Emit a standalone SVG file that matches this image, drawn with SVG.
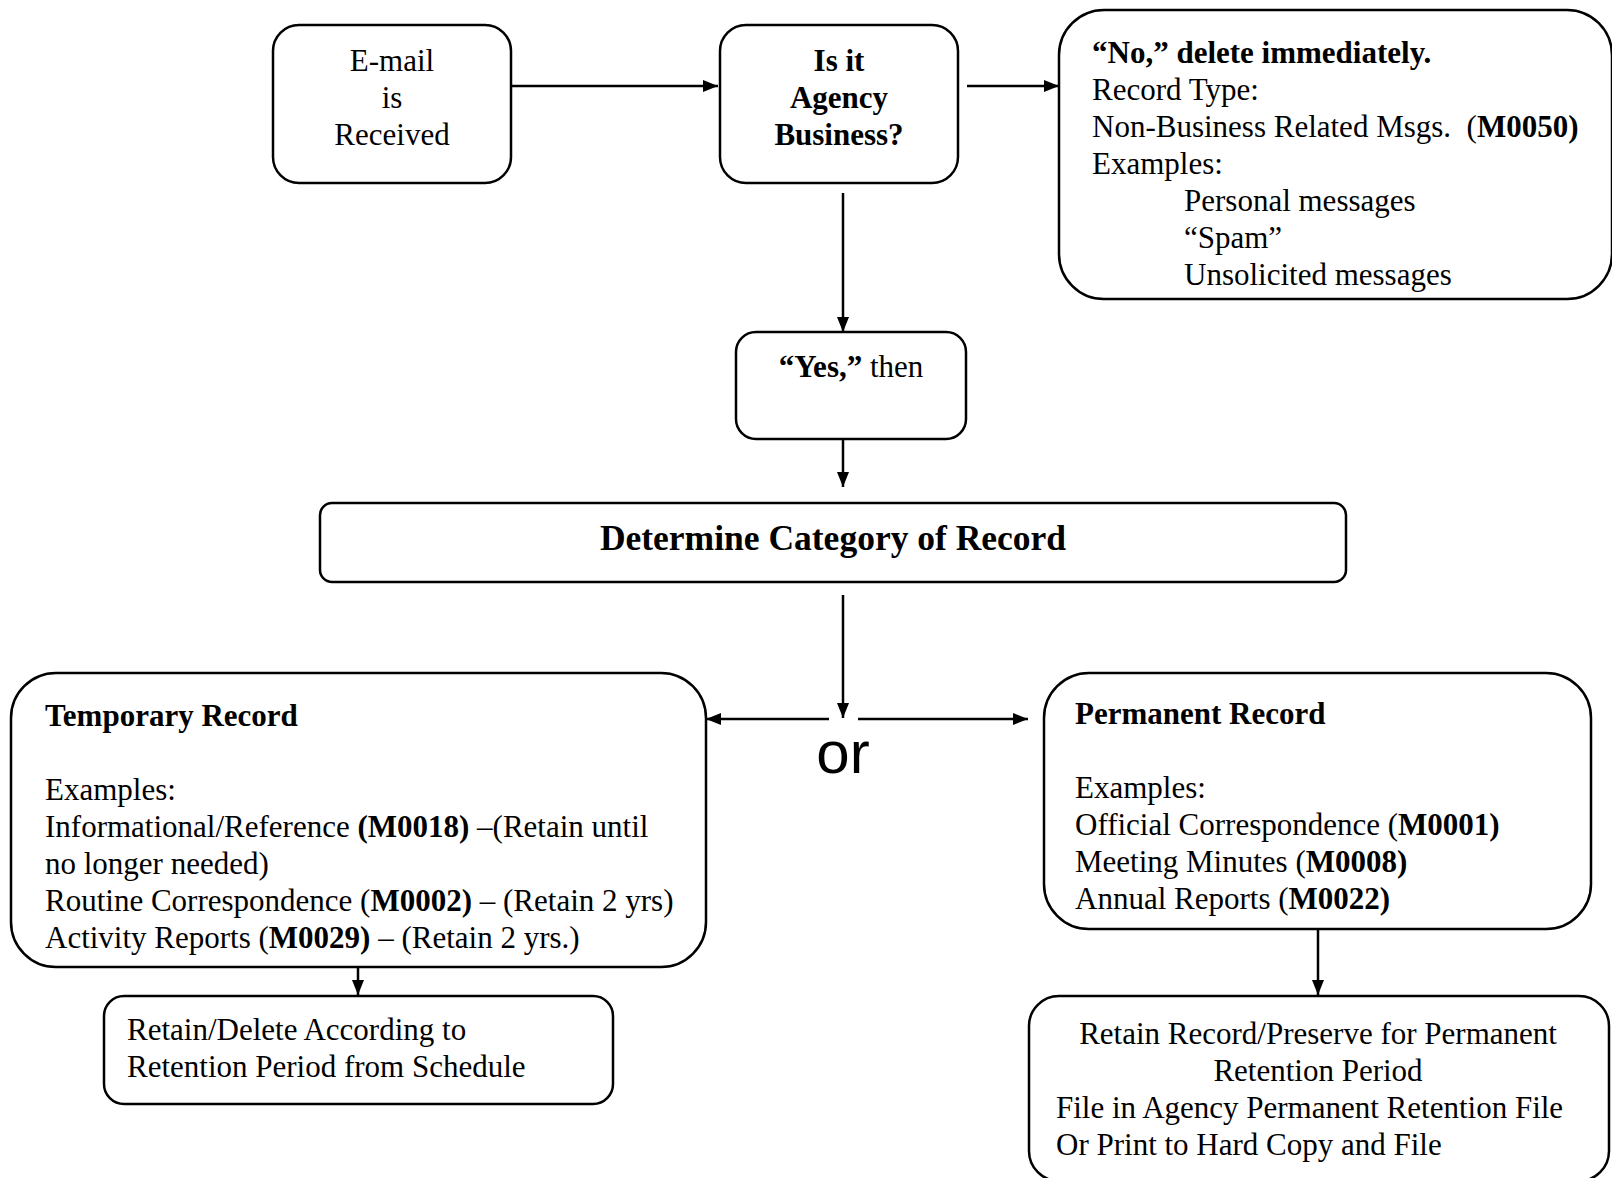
<svg xmlns="http://www.w3.org/2000/svg" width="1612" height="1178" viewBox="0 0 1612 1178">
<defs>
<style>
.box{fill:#fff;stroke:#000;stroke-width:2.5}
.t{font-family:"Liberation Serif","Times New Roman",serif;font-size:31px;fill:#000}
.b{font-weight:bold}
.c{text-anchor:middle}
.con{stroke:#000;stroke-width:2.5;fill:none;marker-end:url(#ah)}
</style>
<marker id="ah" markerUnits="userSpaceOnUse" markerWidth="16" markerHeight="14" refX="15" refY="6" orient="auto">
<path d="M0,0 L15,6 L0,12 z" fill="#000"/>
</marker>
</defs>
<rect width="1612" height="1178" fill="#fff"/>

<g id="connectors">
<path class="con" d="M511,86 H718"/>
<path class="con" d="M967,86 H1059"/>
<path class="con" d="M843,193 V332"/>
<path class="con" d="M843,439 V487"/>
<path class="con" d="M843,595 V718"/>
<path class="con" d="M829,719 H706"/>
<path class="con" d="M858,719 H1028"/>
<path class="con" d="M358,967 V995"/>
<path class="con" d="M1318,929 V995"/>
</g>

<g id="email">
<rect class="box" x="273" y="25" width="238" height="158" rx="26"/>
<text class="t c" x="392" y="71">E-mail</text>
<text class="t c" x="392" y="108">is</text>
<text class="t c" x="392" y="145">Received</text>
</g>

<g id="agency">
<rect class="box" x="720" y="25" width="238" height="158" rx="26"/>
<text class="t b c" x="839" y="71">Is it</text>
<text class="t b c" x="839" y="108">Agency</text>
<text class="t b c" x="839" y="145">Business?</text>
</g>

<g id="no">
<rect class="box" x="1059" y="10" width="553" height="289" rx="45"/>
<text class="t b" x="1092" y="63">“No,” delete immediately.</text>
<text class="t" x="1092" y="100">Record Type:</text>
<text class="t" x="1092" y="137" xml:space="preserve">Non-Business Related Msgs.  (<tspan class="b">M0050)</tspan></text>
<text class="t" x="1092" y="174">Examples:</text>
<text class="t" x="1184" y="211">Personal messages</text>
<text class="t" x="1184" y="248">“Spam”</text>
<text class="t" x="1184" y="285">Unsolicited messages</text>
</g>

<g id="yes">
<rect class="box" x="736" y="332" width="230" height="107" rx="20"/>
<text class="t c" x="851" y="377"><tspan class="b">“Yes,”</tspan> then</text>
</g>

<g id="determine">
<rect class="box" x="320" y="503" width="1026" height="79" rx="12"/>
<text class="t b c" x="833" y="550" style="font-size:35.5px">Determine Category of Record</text>
</g>

<g id="or">
<text x="843" y="773" text-anchor="middle" style="font-family:'Liberation Sans',Arial,sans-serif;font-size:60px;fill:#000">or</text>
</g>

<g id="temporary">
<rect class="box" x="11" y="673" width="695" height="294" rx="45"/>
<text class="t b" x="45" y="726">Temporary Record</text>
<text class="t" x="45" y="800">Examples:</text>
<text class="t" x="45" y="837">Informational/Reference <tspan class="b">(M0018)</tspan> –(Retain until</text>
<text class="t" x="45" y="874">no longer needed)</text>
<text class="t" x="45" y="911">Routine Correspondence (<tspan class="b">M0002)</tspan> – (Retain 2 yrs)</text>
<text class="t" x="45" y="948">Activity Reports (<tspan class="b">M0029)</tspan> – (Retain 2 yrs.)</text>
</g>

<g id="retain-delete">
<rect class="box" x="104" y="996" width="509" height="108" rx="20"/>
<text class="t" x="127" y="1040">Retain/Delete According to</text>
<text class="t" x="127" y="1077">Retention Period from Schedule</text>
</g>

<g id="permanent">
<rect class="box" x="1044" y="673" width="547" height="256" rx="45"/>
<text class="t b" x="1075" y="724">Permanent Record</text>
<text class="t" x="1075" y="798">Examples:</text>
<text class="t" x="1075" y="835">Official Correspondence (<tspan class="b">M0001)</tspan></text>
<text class="t" x="1075" y="872">Meeting Minutes (<tspan class="b">M0008)</tspan></text>
<text class="t" x="1075" y="909">Annual Reports (<tspan class="b">M0022)</tspan></text>
</g>

<g id="retain-permanent">
<rect class="box" x="1029" y="996" width="580" height="185" rx="30"/>
<text class="t c" x="1318" y="1044">Retain Record/Preserve for Permanent</text>
<text class="t c" x="1318" y="1081">Retention Period</text>
<text class="t" x="1056" y="1118">File in Agency Permanent Retention File</text>
<text class="t" x="1056" y="1155">Or Print to Hard Copy and File</text>
</g>
</svg>
